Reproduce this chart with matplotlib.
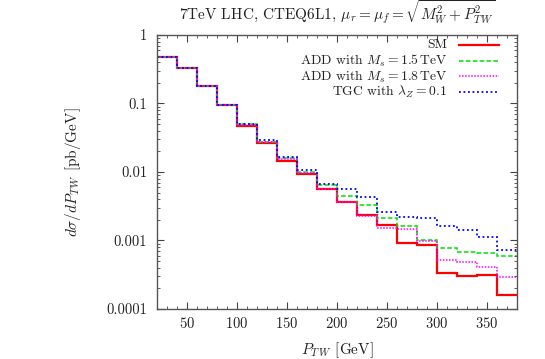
import numpy as np
import matplotlib
matplotlib.use("Agg")
import matplotlib.pyplot as plt
from matplotlib.ticker import FixedLocator, FixedFormatter, MultipleLocator, LogLocator, NullFormatter

plt.rcParams['font.family'] = 'serif'
plt.rcParams['font.serif'] = ['cmr10', 'DejaVu Serif']
plt.rcParams['mathtext.fontset'] = 'cm'
plt.rcParams['axes.formatter.use_mathtext'] = True

edges = [20, 40, 60, 80, 100, 120, 140, 160, 180, 200, 220, 240, 260, 280, 300, 320, 340, 360, 380]
sm = [0.47, 0.333, 0.182, 0.094, 0.0474, 0.0262, 0.0147, 0.0094, 0.0056, 0.00369, 0.00233,
      0.00168, 0.00093, 0.00087, 0.000335, 0.000303, 0.000316, 0.00016]
add15 = [0.47, 0.333, 0.182, 0.094, 0.050, 0.0275, 0.0160, 0.0100, 0.0064, 0.00447, 0.00326,
         0.0021, 0.00163, 0.00100, 0.00079, 0.00068, 0.00066, 0.00059]
add18 = [0.47, 0.333, 0.182, 0.094, 0.049, 0.0270, 0.0155, 0.0097, 0.00574, 0.0036, 0.00225,
         0.00151, 0.00149, 0.00098, 0.000525, 0.00049, 0.000415, 0.000293]
tgc = [0.47, 0.333, 0.182, 0.094, 0.050, 0.029, 0.0167, 0.0107, 0.0067, 0.0056, 0.00432,
       0.0026, 0.0022, 0.0021, 0.00161, 0.00142, 0.00114, 0.00073]

labels = ["SM", r"ADD with $M_s = 1.5\,$TeV", r"ADD with $M_s = 1.8\,$TeV", r"TGC with $\lambda_Z = 0.1$"]
colors = ['#ff0000', '#00e000', '#ff00ff', '#0000ff']
styles = ['-', (0, (3, 1.5)), (0, (1, 1)), (0, (1, 1.5))]
widths = [1.6, 1.1, 1.1, 1.3]

yticks = [0.0001, 0.001, 0.01, 0.1, 1]
ytick_labels = ["0.0001", "0.001", "0.01", "0.1", "1"]
xticks = [50, 100, 150, 200, 250, 300, 350]

fig = plt.figure(figsize=(5.45, 3.59), dpi=100)
ax = fig.add_axes([0.288, 0.1393, 0.6606, 0.7632])

series = [sm, add15, add18, tgc]
for vals, c, ls, lw in zip(series, colors, styles, widths):
    ax.stairs(vals, edges, color=c, linestyle=ls, linewidth=lw, baseline=None)

ax.set_yscale('log')
ax.set_xlim(20, 380)
ax.set_ylim(1e-4, 1)
ax.yaxis.set_major_locator(FixedLocator(yticks))
ax.yaxis.set_major_formatter(FixedFormatter(ytick_labels))
ax.yaxis.set_minor_locator(LogLocator(base=10, subs=np.arange(2, 10)))
ax.yaxis.set_minor_formatter(NullFormatter())
ax.xaxis.set_major_locator(FixedLocator(xticks))
ax.xaxis.set_minor_locator(MultipleLocator(10))

ax.tick_params(which='both', direction='in', top=True, right=True, labelsize=10.5, colors='#444444', labelcolor='#222222')
ax.tick_params(which='major', length=5, width=0.8)
ax.tick_params(which='minor', length=2.5, width=0.6)
ax.tick_params(axis='x', pad=5)
ax.tick_params(axis='y', pad=7)
for s in ax.spines.values():
    s.set_color('#555555')
    s.set_linewidth(1.0)

ax.set_xlabel(r"$P_{T\,W}$ [GeV]", fontsize=11, color='#222222', labelpad=7)
ax.set_ylabel(r"$d\sigma/dP_{T\,W}$ [pb/GeV]", fontsize=11, color='#222222', labelpad=17)
ax.set_title(r"7TeV LHC, CTEQ6L1, $\mu_r = \mu_f = \sqrt{M_W^2 + P_{T\,W}^2}$", fontsize=11,
             color='#222222', pad=11)

# legend (manual, gnuplot style: right-aligned text, sample to the right)
rows_y = [0.963, 0.906, 0.849, 0.792]
for lab, c, ls, lw, yy in zip(labels, colors, styles, widths, rows_y):
    ax.text(0.806, yy, lab, transform=ax.transAxes, ha='right', va='center', fontsize=9.8, color='#222222')
    ax.plot([0.839, 0.95], [yy, yy], transform=ax.transAxes, color=c, linestyle=ls, linewidth=lw)

fig.savefig("out.png", dpi=100)
